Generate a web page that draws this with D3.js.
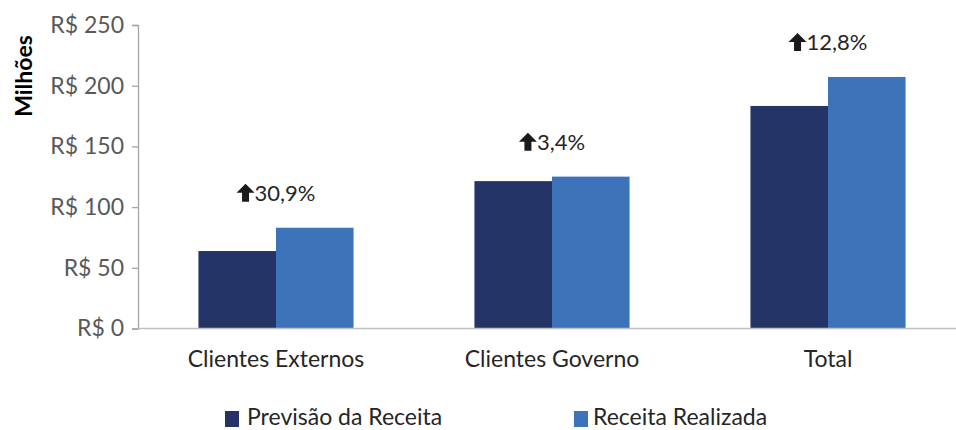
<!DOCTYPE html>
<html>
<head>
<meta charset="utf-8">
<script src="https://cdn.jsdelivr.net/npm/d3@7"></script>
<style>
  html, body { margin: 0; padding: 0; background: #fff; }
  svg { display: block; font-family: Lato, "Open Sans", sans-serif; }
</style>
</head>
<body>
<svg id="chart" width="956" height="430"></svg>
<script>
// Receita por segmento (R$ milhões)
const categories = ["Clientes Externos", "Clientes Governo", "Total"];
const seriesNames = ["Previsão da Receita", "Receita Realizada"];
const previsao = [63.8, 121.4, 183.3];
const realizada = [83.0, 125.1, 207.2];
const growthLabels = ["30,9%", "3,4%", "12,8%"];
const yTicks = [0, 50, 100, 150, 200, 250];
const colors = ["#243466", "#3d73b9"];

(function () {
  const svg = d3.select("#chart");
  const width = 956;
  const plotLeft = 138, plotTop = 25, plotBottom = 328.5;

  const x = d3.scaleBand()
    .domain(categories)
    .range([plotLeft, plotLeft + 276 * categories.length])
    .paddingInner(0.438)
    .paddingOuter(0.219);

  const x1 = d3.scaleBand()
    .domain(seriesNames)
    .range([0, x.bandwidth()]);

  const y = d3.scaleLinear().domain([0, 250]).range([plotBottom, plotTop]);

  const rows = categories.map((c, i) => ({
    cat: c,
    values: [previsao[i], realizada[i]],
    label: growthLabels[i]
  }));

  // Eixo Y
  const yAxis = svg.append("g")
    .attr("transform", `translate(${plotLeft},0)`)
    .call(d3.axisLeft(y).tickValues(yTicks).tickSize(6).tickPadding(8)
      .tickFormat(d => "R$ " + d));
  yAxis.select(".domain").attr("stroke", "#a6a6a6").attr("stroke-width", 1.3);
  yAxis.selectAll(".tick line").attr("stroke", "#a6a6a6").attr("stroke-width", 1.3);
  yAxis.selectAll(".tick text")
    .attr("fill", "#595959")
    .style("font-size", "23px")
    .style("font-family", "Lato, sans-serif");

  // Barras
  const groups = svg.append("g").selectAll("g")
    .data(rows).join("g")
    .attr("transform", d => `translate(${x(d.cat)},0)`);

  groups.selectAll("rect")
    .data(d => d.values.map((v, j) => ({ key: seriesNames[j], v, j })))
    .join("rect")
    .attr("x", d => x1(d.key))
    .attr("width", x1.bandwidth())
    .attr("y", d => y(d.v))
    .attr("height", d => y(0) - y(d.v))
    .attr("fill", d => colors[d.j]);

  // Linha base do eixo X
  svg.append("line")
    .attr("x1", plotLeft).attr("x2", width)
    .attr("y1", y(0)).attr("y2", y(0))
    .attr("stroke", "#bfbfbf").attr("stroke-width", 1.5);

  // Rótulos das categorias
  svg.append("g").selectAll("text")
    .data(categories).join("text")
    .attr("x", d => x(d) + x.bandwidth() / 2)
    .attr("y", 367)
    .attr("text-anchor", "middle")
    .attr("fill", "#262626")
    .style("font-size", "23px")
    .text(d => d);

  // Variação percentual com seta, centrada sobre cada grupo
  const ann = groups.append("g")
    .attr("transform", d => `translate(${x.bandwidth() / 2},${y(d3.max(d.values)) - 35})`);
  const annText = ann.append("text")
    .attr("y", 8)
    .attr("fill", "#262626")
    .style("font-size", "22px")
    .text(d => d.label);
  annText.each(function () {
    const w = this.getComputedTextLength();
    const total = 18 + w;
    d3.select(this).attr("x", -total / 2 + 18);
    d3.select(this.parentNode).insert("path", "text")
      .attr("transform", `translate(${-total / 2},0)`)
      .attr("d", "M0,0 L9,-9 L18,0 L12.5,0 L12.5,9 L5.5,9 L5.5,0 Z")
      .attr("fill", "#1a1a1a");
  });

  // Título do eixo Y
  svg.append("text")
    .attr("transform", "translate(32,76) rotate(-90)")
    .attr("text-anchor", "middle")
    .attr("fill", "#000")
    .style("font-size", "23px")
    .style("font-weight", "bold")
    .text("Milhões");

  // Legenda
  const legendX = [225, 574];
  const legend = svg.append("g").selectAll("g")
    .data(seriesNames).join("g")
    .attr("transform", (d, i) => `translate(${legendX[i]},0)`);
  legend.append("rect")
    .attr("x", 0).attr("y", 411)
    .attr("width", 14).attr("height", 16)
    .attr("fill", (d, i) => colors[i]);
  legend.append("text")
    .attr("x", (d, i) => i === 0 ? 22 : 19)
    .attr("y", 425)
    .attr("fill", "#262626")
    .style("font-size", "23px")
    .text(d => d);
})();
</script>
</body>
</html>
